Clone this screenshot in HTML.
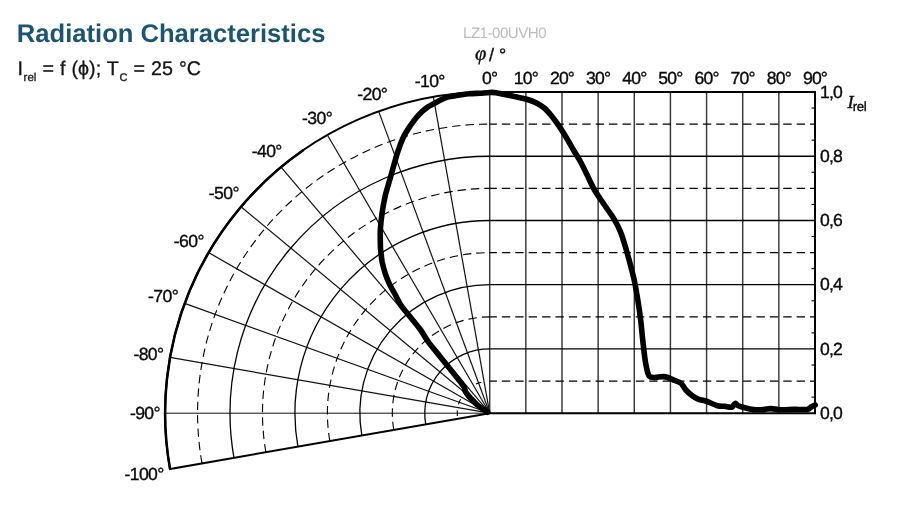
<!DOCTYPE html>
<html><head><meta charset="utf-8"><title>Radiation Characteristics</title>
<style>html,body{margin:0;padding:0;background:#fff;}body{width:899px;height:513px;overflow:hidden;position:relative;font-family:"Liberation Sans",sans-serif;}svg{position:absolute;left:0;top:0;display:block;text-rendering:geometricPrecision;will-change:transform;opacity:0.999}text{font-family:"Liberation Sans",sans-serif;}</style>
</head><body>
<svg width="899" height="513" viewBox="0 0 899 513">
<rect width="899" height="513" fill="#fff"/>
<text x="16.8" y="41.5" font-size="25.6" font-weight="bold" fill="#1b5571">Radiation Characteristics</text>
<text x="17.6" y="75.1" font-size="19.7" word-spacing="0.6" fill="#151515" stroke="#151515" stroke-width="0.3">I<tspan font-size="11.5" dy="6" dx="0.5">rel</tspan><tspan dy="-6"> = f (ϕ); T</tspan><tspan font-size="11" dy="6" dx="0.5">C</tspan><tspan dy="-6"> = 25 °C</tspan></text>
<text x="463" y="38.0" font-size="15.1" letter-spacing="-0.5" fill="#bcbcbc">LZ1-00UVH0</text>
<text x="475" y="60.6" font-size="18" fill="#0a0a0a" stroke="#0a0a0a" stroke-width="0.35"><tspan font-family="Liberation Serif" font-style="italic" font-size="20.5" dy="-0.6">φ</tspan><tspan dx="-2.3" dy="0.6"> / °</tspan></text>
<g fill="none" stroke-linecap="butt">
<line x1="489.70" y1="92.00" x2="489.70" y2="413.20" stroke="#383838" stroke-width="1.45"/>
<line x1="525.84" y1="92.00" x2="525.84" y2="413.20" stroke="#383838" stroke-width="1.45"/>
<line x1="561.99" y1="92.00" x2="561.99" y2="413.20" stroke="#383838" stroke-width="1.45"/>
<line x1="598.13" y1="92.00" x2="598.13" y2="413.20" stroke="#383838" stroke-width="1.45"/>
<line x1="634.28" y1="92.00" x2="634.28" y2="413.20" stroke="#383838" stroke-width="1.45"/>
<line x1="670.42" y1="92.00" x2="670.42" y2="413.20" stroke="#383838" stroke-width="1.45"/>
<line x1="706.57" y1="92.00" x2="706.57" y2="413.20" stroke="#383838" stroke-width="1.45"/>
<line x1="742.71" y1="92.00" x2="742.71" y2="413.20" stroke="#383838" stroke-width="1.45"/>
<line x1="778.86" y1="92.00" x2="778.86" y2="413.20" stroke="#383838" stroke-width="1.45"/>
<line x1="489.70" y1="381.08" x2="815.00" y2="381.08" stroke="#000" stroke-width="1.1" stroke-dasharray="8.4 5" stroke-dashoffset="1.25"/>
<line x1="489.70" y1="348.96" x2="815.00" y2="348.96" stroke="#000" stroke-width="1.3"/>
<line x1="489.70" y1="316.84" x2="815.00" y2="316.84" stroke="#000" stroke-width="1.1" stroke-dasharray="8.4 5" stroke-dashoffset="1.25"/>
<line x1="489.70" y1="284.72" x2="815.00" y2="284.72" stroke="#000" stroke-width="1.3"/>
<line x1="489.70" y1="252.60" x2="815.00" y2="252.60" stroke="#000" stroke-width="1.1" stroke-dasharray="8.4 5" stroke-dashoffset="1.25"/>
<line x1="489.70" y1="220.48" x2="815.00" y2="220.48" stroke="#000" stroke-width="1.3"/>
<line x1="489.70" y1="188.36" x2="815.00" y2="188.36" stroke="#000" stroke-width="1.1" stroke-dasharray="8.4 5" stroke-dashoffset="1.25"/>
<line x1="489.70" y1="156.24" x2="815.00" y2="156.24" stroke="#000" stroke-width="1.3"/>
<line x1="489.70" y1="124.12" x2="815.00" y2="124.12" stroke="#000" stroke-width="1.1" stroke-dasharray="8.4 5" stroke-dashoffset="1.25"/>
<line x1="811.50" y1="397.14" x2="815.00" y2="397.14" stroke="#000" stroke-width="1.1"/>
<line x1="811.50" y1="365.02" x2="815.00" y2="365.02" stroke="#000" stroke-width="1.1"/>
<line x1="811.50" y1="332.90" x2="815.00" y2="332.90" stroke="#000" stroke-width="1.1"/>
<line x1="811.50" y1="300.78" x2="815.00" y2="300.78" stroke="#000" stroke-width="1.1"/>
<line x1="811.50" y1="268.66" x2="815.00" y2="268.66" stroke="#000" stroke-width="1.1"/>
<line x1="811.50" y1="236.54" x2="815.00" y2="236.54" stroke="#000" stroke-width="1.1"/>
<line x1="811.50" y1="204.42" x2="815.00" y2="204.42" stroke="#000" stroke-width="1.1"/>
<line x1="811.50" y1="172.30" x2="815.00" y2="172.30" stroke="#000" stroke-width="1.1"/>
<line x1="811.50" y1="140.18" x2="815.00" y2="140.18" stroke="#000" stroke-width="1.1"/>
<line x1="811.50" y1="108.06" x2="815.00" y2="108.06" stroke="#000" stroke-width="1.1"/>
<line x1="489.70" y1="413.20" x2="165.10" y2="413.20" stroke="#111" stroke-width="1.0"/>
<line x1="489.70" y1="413.20" x2="170.03" y2="357.42" stroke="#111" stroke-width="1.2"/>
<line x1="489.70" y1="413.20" x2="184.68" y2="303.34" stroke="#111" stroke-width="1.2"/>
<line x1="489.70" y1="413.20" x2="208.59" y2="252.60" stroke="#111" stroke-width="1.2"/>
<line x1="489.70" y1="413.20" x2="241.04" y2="206.74" stroke="#111" stroke-width="1.2"/>
<line x1="489.70" y1="413.20" x2="281.05" y2="167.15" stroke="#111" stroke-width="1.2"/>
<line x1="489.70" y1="413.20" x2="327.40" y2="135.03" stroke="#111" stroke-width="1.2"/>
<line x1="489.70" y1="413.20" x2="378.68" y2="111.37" stroke="#111" stroke-width="1.2"/>
<line x1="489.70" y1="413.20" x2="433.33" y2="96.88" stroke="#111" stroke-width="1.2"/>
<path d="M425.77 424.36 A64.92 64.24 0 0 1 489.70 348.96" stroke="#000" stroke-width="1.3"/>
<path d="M393.80 429.93 A97.38 96.36 0 0 1 489.70 316.84" stroke="#000" stroke-width="1.1" stroke-dasharray="8.4 5"/>
<path d="M361.83 435.51 A129.84 128.48 0 0 1 489.70 284.72" stroke="#000" stroke-width="1.3"/>
<path d="M329.87 441.09 A162.30 160.60 0 0 1 489.70 252.60" stroke="#000" stroke-width="1.1" stroke-dasharray="8.4 5"/>
<path d="M297.90 446.67 A194.76 192.72 0 0 1 489.70 220.48" stroke="#000" stroke-width="1.3"/>
<path d="M265.93 452.24 A227.22 224.84 0 0 1 489.70 188.36" stroke="#000" stroke-width="1.1" stroke-dasharray="8.4 5"/>
<path d="M233.97 457.82 A259.68 256.96 0 0 1 489.70 156.24" stroke="#000" stroke-width="1.3"/>
<path d="M202.00 463.40 A292.14 289.08 0 0 1 489.70 124.12" stroke="#000" stroke-width="1.1" stroke-dasharray="8.4 5"/>
<path d="M475.98 384.09 A32.46 32.12 0 0 1 481.30 382.17" stroke="#000" stroke-width="1.1"/>
<path d="M458.50 404.35 A32.46 32.12 0 0 1 460.53 399.12" stroke="#000" stroke-width="1.1"/>
<path d="M457.36 416.00 A32.46 32.12 0 0 1 457.36 410.40" stroke="#000" stroke-width="1.1"/>
<path d="M170.03 468.98 A324.60 321.20 0 0 1 489.70 92.00 L815.00 92.00 L815.00 413.20 L489.70 413.20 Z" stroke="#000" stroke-width="2" stroke-linejoin="miter"/>
<path d="M170.03 468.98 A324.60 321.20 0 0 1 303.52 150.09" stroke="#000" stroke-width="2.5"/>
<path d="M487.6 412.2 C487.0 411.8 485.6 410.7 484.0 409.6 C482.4 408.5 480.3 407.5 478.0 405.5 C475.7 403.5 472.0 399.6 470.2 397.7 C468.4 395.8 468.2 395.5 467.3 394.3 C466.4 393.1 465.4 391.9 464.9 390.6 C464.3 389.4 466.0 389.8 464.0 386.8 C462.0 383.8 457.0 377.7 453.1 372.8 C449.2 367.9 444.8 362.4 440.6 357.2 C436.4 352.0 431.5 346.2 428.1 341.6 C424.7 337.0 423.5 333.9 420.3 329.5 C417.1 325.1 412.1 319.3 408.9 315.3 C405.7 311.3 403.5 309.0 401.2 305.6 C398.9 302.2 397.2 298.4 395.3 294.8 C393.4 291.2 391.2 287.7 389.5 284.1 C387.8 280.5 386.4 277.1 385.2 273.4 C384.0 269.7 382.9 265.6 382.1 261.7 C381.4 257.8 381.0 252.7 380.7 250.0 C380.4 247.3 380.4 249.1 380.4 245.6 C380.3 242.1 380.1 234.7 380.4 229.2 C380.7 223.7 381.3 218.3 382.1 212.8 C382.9 207.3 384.1 201.0 385.1 196.4 C386.1 191.8 386.8 190.0 388.1 185.4 C389.4 180.8 391.2 174.5 392.8 169.0 C394.4 163.5 395.8 157.9 397.5 152.6 C399.2 147.3 401.2 141.9 403.3 137.4 C405.4 132.9 407.8 129.4 410.3 125.7 C412.8 122.0 415.6 118.2 418.5 115.1 C421.4 112.0 424.4 109.3 427.9 106.9 C431.4 104.5 436.5 102.2 439.6 100.6 C442.7 99.0 444.4 98.1 446.7 97.3 C449.0 96.5 450.1 96.6 453.7 96.0 C457.3 95.4 464.1 94.2 468.5 93.8 C472.9 93.3 476.9 93.5 480.0 93.3 C483.1 93.1 485.0 92.9 487.0 92.8 C489.0 92.7 490.2 92.4 491.9 92.4 C493.6 92.4 495.1 92.7 497.0 93.0 C498.9 93.3 500.3 93.7 503.4 94.3 C506.5 94.9 511.6 96.0 515.5 96.8 C519.4 97.6 523.3 98.2 526.7 99.2 C530.1 100.2 533.1 101.2 536.0 102.7 C538.9 104.2 542.0 106.1 544.3 108.0 C546.6 109.9 547.9 111.5 550.0 114.0 C552.1 116.5 554.7 119.9 557.0 123.2 C559.3 126.5 561.2 129.3 564.0 133.8 C566.8 138.3 570.8 145.3 573.5 150.0 C576.2 154.7 578.2 157.5 580.5 161.8 C582.8 166.1 585.2 171.1 587.5 175.8 C589.8 180.5 591.6 185.0 594.5 190.0 C597.4 195.0 601.7 200.8 605.0 205.7 C608.3 210.6 611.9 215.4 614.4 219.7 C616.9 224.0 618.5 227.1 620.3 231.4 C622.1 235.7 623.5 240.4 625.0 245.5 C626.5 250.6 628.1 256.0 629.6 261.8 C631.1 267.6 632.9 274.1 634.3 280.5 C635.7 286.9 636.7 293.4 637.8 300.0 C638.9 306.6 639.9 313.6 640.7 320.4 C641.5 327.2 642.1 334.3 642.8 340.6 C643.5 346.9 644.2 353.8 644.9 358.4 C645.5 363.0 646.0 365.6 646.7 368.5 C647.4 371.4 647.9 374.6 649.2 376.1 C650.5 377.6 652.0 377.5 654.3 377.6 C656.6 377.7 660.7 376.5 663.2 376.6 C665.7 376.7 667.6 377.5 669.5 378.1 C671.4 378.7 672.7 379.5 674.6 380.4 C676.5 381.2 679.0 381.6 680.9 383.2 C682.8 384.8 684.0 387.9 685.9 390.0 C687.8 392.1 690.2 394.2 692.3 395.8 C694.4 397.4 696.4 398.5 698.6 399.4 C700.9 400.3 702.7 399.9 705.8 401.0 C708.9 402.1 714.3 404.8 717.4 405.7 C720.5 406.6 722.2 406.1 724.6 406.3 C727.0 406.6 730.0 407.7 731.8 407.2 C733.5 406.7 734.0 403.6 735.1 403.4 C736.2 403.1 736.7 405.0 738.3 405.7 C739.9 406.4 742.3 407.1 744.8 407.8 C747.3 408.5 750.4 409.3 753.5 409.6 C756.6 409.9 760.7 409.8 763.6 409.6 C766.5 409.4 768.0 408.6 770.9 408.6 C773.8 408.6 777.1 409.7 781.0 409.8 C784.9 409.9 789.7 409.5 794.0 409.4 C798.3 409.3 804.1 409.8 807.0 409.4 C809.9 409.0 810.0 407.6 811.4 406.8 C812.8 406.1 814.6 405.2 815.2 404.9" stroke="#000" stroke-width="5.6" stroke-linejoin="round" stroke-linecap="round"/>
</g>
<g font-size="17.6" letter-spacing="-0.8" fill="#0a0a0a" stroke="#0a0a0a" stroke-width="0.35">
<text x="489.7" y="84" text-anchor="middle">0°</text>
<text x="525.8" y="84" text-anchor="middle">10°</text>
<text x="562.0" y="84" text-anchor="middle">20°</text>
<text x="598.1" y="84" text-anchor="middle">30°</text>
<text x="634.3" y="84" text-anchor="middle">40°</text>
<text x="670.4" y="84" text-anchor="middle">50°</text>
<text x="706.6" y="84" text-anchor="middle">60°</text>
<text x="742.7" y="84" text-anchor="middle">70°</text>
<text x="778.9" y="84" text-anchor="middle">80°</text>
<text x="815.0" y="84" text-anchor="middle">90°</text>
<text x="820" y="418.8">0,0</text>
<text x="820" y="354.6">0,2</text>
<text x="820" y="290.3">0,4</text>
<text x="820" y="226.1">0,6</text>
<text x="820" y="161.8">0,8</text>
<text x="820" y="97.6">1,0</text>
<text x="847.5" y="107.7"><tspan font-family="Liberation Serif" font-style="italic" font-size="18.3">I</tspan><tspan font-size="13.3" dy="3.3" letter-spacing="-0.4">rel</tspan></text>
<text x="444.8" y="87.0" text-anchor="end" letter-spacing="-0.6">-10°</text>
<text x="387.3" y="100.2" text-anchor="end" letter-spacing="-0.6">-20°</text>
<text x="332.2" y="123.5" text-anchor="end" letter-spacing="-0.6">-30°</text>
<text x="281.8" y="156.8" text-anchor="end" letter-spacing="-0.6">-40°</text>
<text x="238.9" y="198.9" text-anchor="end" letter-spacing="-0.6">-50°</text>
<text x="203.9" y="247.1" text-anchor="end" letter-spacing="-0.6">-60°</text>
<text x="178.2" y="301.8" text-anchor="end" letter-spacing="-0.6">-70°</text>
<text x="163.5" y="359.8" text-anchor="end" letter-spacing="-0.6">-80°</text>
<text x="160.0" y="418.6" text-anchor="end" letter-spacing="-0.6">-90°</text>
<text x="163.7" y="479.8" text-anchor="end" letter-spacing="-0.6">-100°</text>
</g>
</svg></body></html>
